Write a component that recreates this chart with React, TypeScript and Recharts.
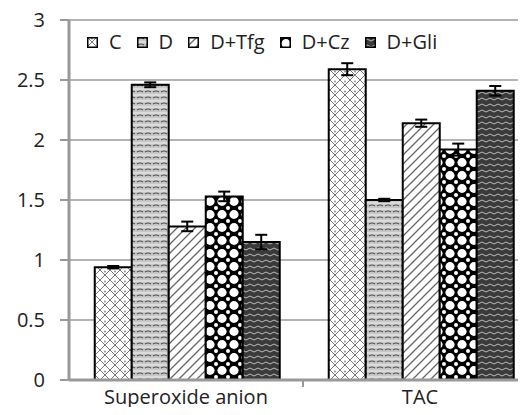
import React from 'react'
import { BarChart, Bar, XAxis, YAxis, CartesianGrid, ErrorBar } from 'recharts'

const categories = ['Superoxide anion', 'TAC']
const seriesNames = ['C', 'D', 'D+Tfg', 'D+Cz', 'D+Gli']
const valuesC   = [0.94, 2.59]
const valuesD   = [2.46, 1.50]
const valuesTfg = [1.28, 2.14]
const valuesCz  = [1.53, 1.92]
const valuesGli = [1.15, 2.41]
const errC   = [0.01, 0.05]
const errD   = [0.02, 0.01]
const errTfg = [0.04, 0.03]
const errCz  = [0.04, 0.05]
const errGli = [0.06, 0.04]
const yTicks = [0, 0.5, 1, 1.5, 2, 2.5, 3]

const seriesValues = [valuesC, valuesD, valuesTfg, valuesCz, valuesGli]
const seriesErrors = [errC, errD, errTfg, errCz, errGli]
const patternIds = ['patC', 'patD', 'patTfg', 'patCz', 'patGli']

const data = categories.map((name, i) => {
  const row: Record<string, string | number> = { name }
  seriesNames.forEach((s, k) => {
    row[s] = seriesValues[k][i]
    row[s + '_err'] = seriesErrors[k][i]
  })
  return row
})

const CHART_W = 540
const CHART_H = 415
const M = { top: 20, right: 3, left: 0, bottom: 0 }
const Y_W = 69
const X_H = 35
const FONT = "'Open Sans', sans-serif"
const FS = 20
const halfBand = (CHART_W - M.left - M.right - Y_W) / categories.length / 2

function Patterns() {
  return (
    <svg width={0} height={0} style={{ position: 'absolute' }}>
      <defs>
        <pattern id="patC" width={10} height={10} patternUnits="userSpaceOnUse">
          <rect width={10} height={10} fill="#fff" />
          <path d="M0,0 L10,10 M10,0 L0,10" stroke="#777" strokeWidth={1} />
          <circle cx={5} cy={1.5} r={0.9} fill="#888" />
        </pattern>
        <pattern id="patD" width={8} height={6} patternUnits="userSpaceOnUse">
          <rect width={8} height={6} fill="#c8c8c8" />
          <path d="M1,2 Q4,0 7,2" stroke="#555" strokeWidth={1.2} fill="none" />
          <path d="M0,5 L8,5" stroke="#eee" strokeWidth={1} />
        </pattern>
        <pattern id="patTfg" width={9} height={9} patternUnits="userSpaceOnUse">
          <rect width={9} height={9} fill="#fff" />
          <path d="M-1,10 L10,-1 M-1,1 L1,-1 M8,10 L10,8" stroke="#666" strokeWidth={1.3} />
        </pattern>
        <pattern id="patCz" width={12} height={13} patternUnits="userSpaceOnUse">
          <rect width={12} height={13} fill="#000" />
          <ellipse cx={6} cy={6.5} rx={4.6} ry={4.4} fill="#fff" />
          <circle cx={0} cy={0} r={2} fill="#fff" />
          <circle cx={12} cy={0} r={2} fill="#fff" />
          <circle cx={0} cy={13} r={2} fill="#fff" />
          <circle cx={12} cy={13} r={2} fill="#fff" />
        </pattern>
        <pattern id="patGli" width={8} height={6} patternUnits="userSpaceOnUse">
          <rect width={8} height={6} fill="#3a3a3a" />
          <path d="M0,3 Q2,1 4,3 T8,3" stroke="#bbb" strokeWidth={1} fill="none" />
        </pattern>
      </defs>
    </svg>
  )
}

function ChartLegend() {
  return (
    <div style={{
      position: 'absolute', left: 87, top: 28, height: 28,
      display: 'flex', alignItems: 'center',
      fontFamily: FONT, fontSize: FS, color: '#222', lineHeight: '28px',
    }}>
      {seriesNames.map((s, k) => (
        <div key={s} style={{ display: 'flex', alignItems: 'center', marginRight: 15 }}>
          <svg width={11} height={11} style={{ marginRight: 11, marginTop: 1 }}>
            <rect x={0.75} y={0.75} width={9.5} height={9.5} fill={`url(#${patternIds[k]})`} stroke="#000" strokeWidth={1.5} />
          </svg>
          <span>{s}</span>
        </div>
      ))}
    </div>
  )
}

function CategoryTick(props: any) {
  const { x, y, payload, index } = props
  return (
    <g>
      {index === 0 && (
        <line x1={x + halfBand} y1={y - 8} x2={x + halfBand} y2={y - 1} stroke="#999" strokeWidth={2} />
      )}
      <text x={x} y={y + 16} textAnchor="middle" fill="#222" fontSize={FS} fontFamily={FONT}>
        {payload.value}
      </text>
    </g>
  )
}

export default function App() {
  return (
    <div style={{ margin: -8, width: 526, height: 415, overflow: 'hidden', position: 'relative', background: '#fff' }}>
      <Patterns />
      <BarChart
        width={CHART_W}
        height={CHART_H}
        data={data}
        margin={M}
        barCategoryGap="11%"
        barGap={0}
      >
        <CartesianGrid vertical={false} stroke="#b4b4b4" strokeWidth={2} />
        <XAxis
          dataKey="name"
          height={X_H}
          axisLine={{ stroke: '#999', strokeWidth: 3 }}
          tickLine={false}
          tick={<CategoryTick />}
          interval={0}
        />
        <YAxis
          width={Y_W}
          domain={[0, 3]}
          ticks={yTicks}
          axisLine={{ stroke: '#999', strokeWidth: 3 }}
          tickLine={{ stroke: '#999', strokeWidth: 2 }}
          tickSize={9}
          tickMargin={15}
          tick={{ fill: '#222', fontSize: FS, fontFamily: FONT }}
          tickFormatter={(v: number) => String(v)}
        />
        {seriesNames.map((s, k) => (
          <Bar
            key={s}
            dataKey={s}
            fill={`url(#${patternIds[k]})`}
            stroke="#000"
            strokeWidth={2}
            isAnimationActive={false}
          >
            <ErrorBar dataKey={s + '_err'} width={6} stroke="#000" strokeWidth={2} direction="y" />
          </Bar>
        ))}
      </BarChart>
      <ChartLegend />
    </div>
  )
}
